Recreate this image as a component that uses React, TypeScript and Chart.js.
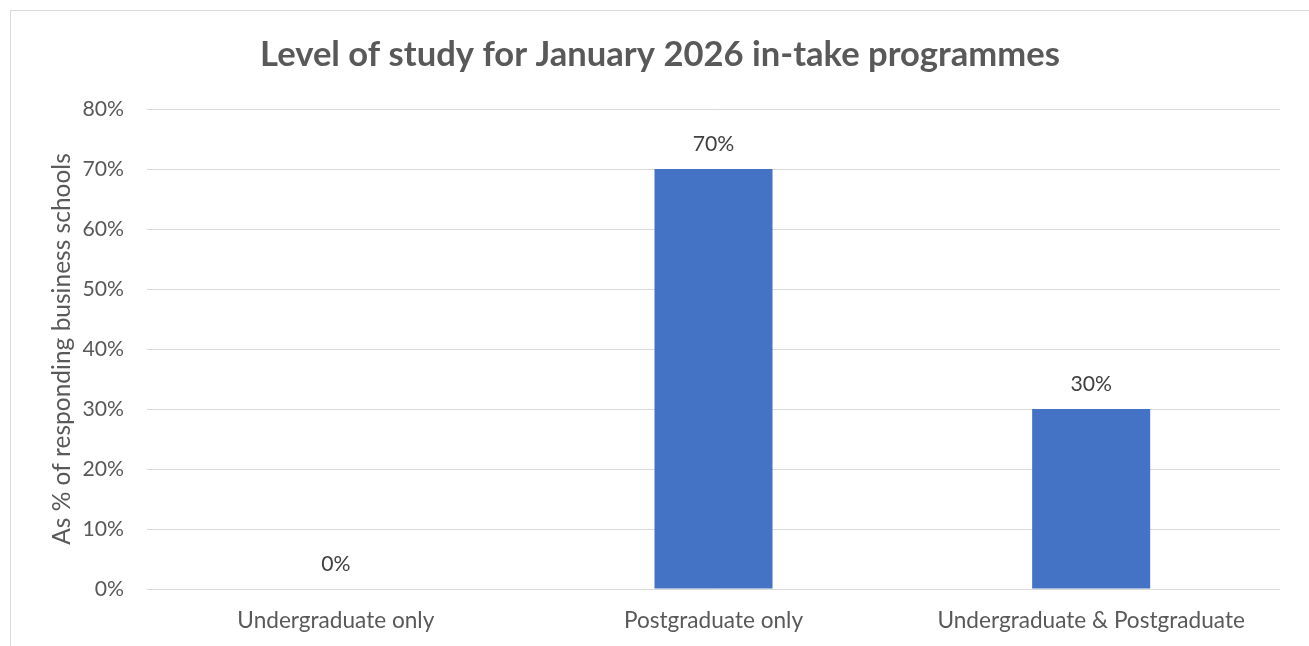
import React, { useEffect, useRef } from "react";
import { Chart, registerables } from "chart.js";

Chart.register(...registerables);

const categories = ["Undergraduate only", "Postgraduate only", "Undergraduate & Postgraduate"];
const values = [0, 70, 30];
const yTicks = [0, 10, 20, 30, 40, 50, 60, 70, 80];
const titleText = "Level of study for January 2026 in-take programmes";
const yTitleText = "As % of responding business schools";

const FONT = "Lato, 'Open Sans', sans-serif";
const TEXT = "#595959";
const LABEL_SIZE = 22.6;
const TICK_SIZE = 21.2;

const dataLabelPlugin = {
  id: "dataLabels",
  afterDatasetsDraw(chart: any) {
    const ctx = chart.ctx;
    const meta = chart.getDatasetMeta(0);
    ctx.save();
    ctx.font = `${TICK_SIZE}px ${FONT}`;
    ctx.fillStyle = "#404040";
    ctx.textAlign = "center";
    ctx.textBaseline = "middle";
    meta.data.forEach((el: any, i: number) => {
      ctx.fillText(`${values[i]}%`, el.x, el.y - 25);
    });
    ctx.restore();
  },
};

export default function App() {
  const ref = useRef<HTMLCanvasElement | null>(null);
  useEffect(() => {
    if (!ref.current) return;
    const chart = new Chart(ref.current, {
      type: "bar",
      data: {
        labels: categories,
        datasets: [
          {
            data: values,
            backgroundColor: "#4472C4",
            categoryPercentage: 1,
            barPercentage: 0.3125,
          },
        ],
      },
      options: {
        responsive: false,
        animation: false,
        devicePixelRatio: 1,
        layout: { padding: { left: 40, right: 29, top: 0, bottom: 0 } },
        plugins: {
          legend: { display: false },
          tooltip: { enabled: false },
          title: {
            display: true,
            text: titleText,
            color: TEXT,
            font: { family: FONT, size: 34.6, weight: "bold", lineHeight: 1.2 },
            padding: { top: 34.2, bottom: 33.3 },
          },
        },
        scales: {
          x: {
            grid: { display: false, drawTicks: false },
            border: { display: false },
            ticks: {
              color: TEXT,
              font: { family: FONT, size: LABEL_SIZE },
              padding: 18,
              maxRotation: 0,
              autoSkip: false,
            },
            afterFit(scale: any) {
              scale.height = 57;
            },
          },
          y: {
            min: 0,
            max: yTicks[yTicks.length - 1],
            grid: { color: "#d9d9d9", lineWidth: 1, drawTicks: false },
            border: { display: false },
            afterBuildTicks(scale: any) {
              scale.ticks = yTicks.map((v) => ({ value: v }));
            },
            ticks: {
              color: TEXT,
              font: { family: FONT, size: TICK_SIZE },
              padding: 23,
              callback: (v: any) => `${v}%`,
            },
            title: {
              display: true,
              text: yTitleText,
              color: TEXT,
              font: { family: FONT, size: 24.5, lineHeight: 1.2 },
              padding: { top: 7.3, bottom: 0 },
            },
            afterFit(scale: any) {
              scale.width = 107;
            },
          },
        },
      },
      plugins: [dataLabelPlugin],
    });
    return () => chart.destroy();
  }, []);

  return (
    <div style={{ position: "fixed", left: 0, top: 0, width: 1309, height: 646, overflow: "hidden", background: "#fff" }}>
      <div style={{ position: "absolute", left: 10, top: 10, width: 1400, height: 700, border: "1px solid #d9d9d9" }} />
      <div style={{ position: "absolute", left: 0, top: 0, width: 1309, height: 646 }}>
        <canvas ref={ref} width={1309} height={646} />
      </div>
    </div>
  );
}
